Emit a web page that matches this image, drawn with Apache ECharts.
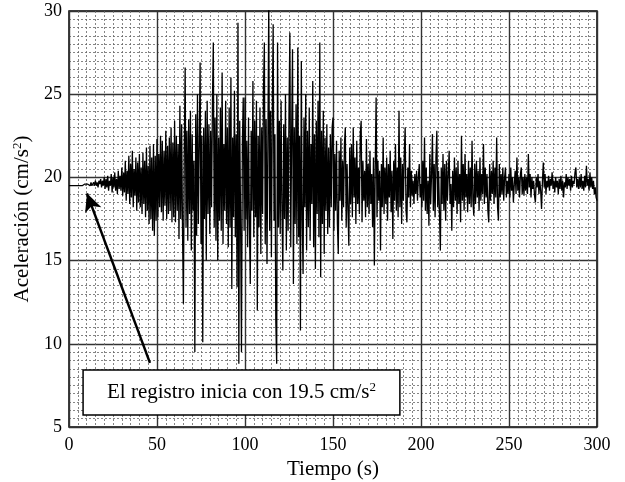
<!DOCTYPE html>
<html>
<head>
<meta charset="utf-8">
<script src="https://cdn.jsdelivr.net/npm/echarts@6/dist/echarts.min.js"></script>
<style>html,body{margin:0;padding:0;background:#fff}#c{width:625px;height:482px}</style>
</head>
<body>
<div id="c"></div>
<script>
// time step of the record (s)
var dt = 0.5;
// acceleration record (cm/s^2), one value every 0.5 s
var accel = [
 19.5,19.5,19.5,19.5,19.5,19.5,19.5,19.5,19.5,19.5,19.5,19.5,19.5,19.5,19.5,19.5,19.5,19.5,19.6,19.5,
 19.5,19.6,19.5,19.6,19.5,19.7,19.5,19.6,19.7,19.5,19.8,19.5,19.7,19.4,19.8,19.6,19.9,19.4,19.8,19.5,
 20.0,19.3,19.9,19.4,20.1,19.2,19.8,19.5,20.2,19.1,20.0,19.4,20.3,19.2,19.9,19.0,20.4,19.3,20.1,19.2,
 20.6,18.9,20.3,19.1,21.0,18.6,20.4,19.0,21.3,18.4,20.8,18.8,21.6,18.2,20.5,18.9,21.2,18.0,20.9,18.5,
 21.4,18.2,20.6,17.8,21.5,18.4,21.0,17.6,21.8,18.0,20.7,17.2,21.9,17.5,21.2,16.8,22.0,16.5,21.3,17.4,
 22.3,17.6,21.4,18.2,22.5,17.9,22.2,17.4,21.6,18.3,22.8,17.5,21.9,17.8,22.4,18.0,23.0,17.3,22.1,17.6,
 23.4,17.3,22.5,18.0,22.0,16.3,24.3,17.5,23.2,16.8,12.4,21.5,26.6,17.0,22.8,16.2,23.5,17.8,24.0,15.6,
 22.6,18.0,21.0,9.5,23.8,16.5,25.0,17.2,22.0,26.9,16.0,22.5,10.1,23.0,17.5,24.0,15.0,24.6,17.8,23.2,
 16.6,22.8,18.2,24.5,28.1,17.0,23.6,16.2,25.0,15.0,22.4,17.4,24.2,16.8,26.3,16.0,22.0,18.0,24.6,17.2,
 23.0,15.8,24.2,17.0,26.0,13.3,22.4,17.6,25.2,16.4,22.6,13.4,29.3,8.8,23.4,17.2,9.5,22.0,24.8,16.8,
 24.8,17.5,22.2,15.8,23.6,17.2,13.6,22.8,18.0,25.8,16.4,23.4,17.6,24.6,12.0,22.5,17.0,24.2,15.4,23.0,
 17.8,25.2,28.1,16.0,23.5,14.8,22.0,30.5,16.8,24.0,15.2,23.8,29.2,17.4,22.6,11.4,8.8,28.1,17.0,23.4,
 16.6,24.6,18.0,14.4,23.2,17.5,25.0,15.6,22.4,16.8,24.0,28.7,15.8,22.6,27.7,13.6,23.0,17.2,24.4,16.0,
 27.8,16.4,22.5,10.8,27.0,17.6,14.2,23.6,18.2,25.0,15.6,22.8,17.0,24.2,16.2,22.0,18.4,25.8,15.8,22.6,
 14.5,23.4,17.8,24.6,16.4,28.1,14.0,22.8,17.2,24.0,15.4,22.4,18.0,23.2,16.6,21.8,17.0,22.6,18.2,23.0,
 23.6,16.8,21.4,18.0,22.2,17.2,15.4,21.6,18.6,22.4,17.4,21.0,18.2,22.0,23.0,17.0,20.8,18.0,15.9,21.8,
 18.4,22.0,17.6,23.0,18.8,21.2,17.2,22.2,18.4,20.6,17.8,22.6,23.4,17.3,21.0,18.6,20.4,17.6,22.3,18.2,
 20.8,17.8,21.6,18.4,20.2,17.0,21.2,14.7,20.6,24.8,17.6,21.0,18.6,20.4,15.6,20.8,18.2,22.4,17.8,20.6,
 18.4,21.2,17.4,20.8,18.8,21.6,17.9,20.4,16.3,21.0,18.6,22.0,18.0,20.6,17.6,24.0,18.2,21.2,17.2,20.8,
 18.6,21.4,23.0,18.0,17.3,20.6,18.8,22.0,18.2,20.4,18.9,19.8,18.4,20.2,19.0,20.4,18.6,20.0,20.8,18.8,
 19.6,18.2,21.0,18.6,22.4,18.0,20.6,17.8,19.8,17.1,21.4,18.4,20.2,22.6,18.0,20.8,17.6,21.2,22.8,18.2,
 20.4,17.8,15.6,20.6,18.4,21.4,18.0,20.8,17.4,21.0,18.6,20.2,21.6,18.4,19.6,16.8,20.4,18.2,21.2,18.6,
 20.6,17.8,21.0,18.4,20.2,17.3,22.5,18.6,20.8,18.0,21.4,18.8,20.2,17.9,21.0,18.4,20.6,18.2,22.2,18.6,
 17.7,20.8,18.4,21.0,18.8,20.4,18.0,21.2,18.6,20.2,19.0,22.0,18.4,20.6,18.8,20.2,18.0,17.3,20.8,18.6,
 20.4,19.0,21.0,18.4,20.6,18.8,22.4,18.2,17.4,20.8,18.8,20.2,19.0,20.6,18.6,20.0,20.6,18.8,19.8,19.0,
 20.2,18.8,20.6,19.2,20.0,18.5,19.6,20.4,19.0,21.2,19.2,20.0,18.8,20.2,20.6,19.0,20.0,18.9,20.2,19.2,
 20.0,19.0,21.4,19.4,20.2,18.8,20.0,19.3,19.8,18.9,18.5,20.0,19.4,20.2,19.0,19.8,19.2,18.1,19.8,20.9,
 19.4,20.2,19.0,19.8,19.4,20.1,19.2,19.9,19.5,20.3,19.3,19.8,19.1,20.0,19.4,19.8,19.0,19.9,19.3,20.1,
 19.2,19.8,18.8,19.7,19.4,20.2,19.3,20.0,19.5,19.9,19.2,20.1,19.4,19.8,19.6,20.3,20.6,19.4,19.9,19.3,
 20.0,19.4,20.2,19.3,19.8,19.2,20.1,19.4,20.7,19.5,19.9,19.2,20.3,19.4,20.0,19.3,19.8,19.0,19.4,18.8,
 18.6
];
// axis ticks
var xTicks = [0, 50, 100, 150, 200, 250, 300];
var yTicks = [5, 10, 15, 20, 25, 30];
// annotation
var noteText = 'El registro inicia con 19.5 cm/s';
var arrowFrom = [46, 8.85];
var arrowTo = [10.2, 19.04];
var boxCorners = [[8, 8.43], [188, 5.72]];

var FONT = '"Liberation Serif", "Times New Roman", serif';
var pts = accel.map(function (v, i) { return [i * dt, v]; });

var chart = echarts.init(document.getElementById('c'), null, {renderer: 'canvas'});
var option = {
  animation: false,
  backgroundColor: '#fff',
  grid: {left: 69, right: 28, top: 11, bottom: 55, containLabel: false, outerBoundsMode: 'none',
    show: true, borderColor: '#000', borderWidth: 1.5, backgroundColor: 'transparent'},
  xAxis: {
    type: 'value', min: xTicks[0], max: xTicks[xTicks.length - 1], interval: 50,
    name: 'Tiempo (s)', nameLocation: 'middle', nameGap: 26,
    nameTextStyle: {fontFamily: FONT, fontSize: 21, color: '#000'},
    axisLine: {show: false}, axisTick: {show: false},
    axisLabel: {fontFamily: FONT, fontSize: 18, color: '#000', margin: 9},
    splitLine: {show: true, lineStyle: {color: '#333', width: 1.4}},
    minorTick: {show: false, splitNumber: 10},
    minorSplitLine: {show: true, lineStyle: {color: '#666', width: 0.8, type: [2, 2]}}
  },
  yAxis: {
    type: 'value', min: yTicks[0], max: yTicks[yTicks.length - 1], interval: 5,
    name: 'Aceleración (cm/s{sup|2})', nameLocation: 'middle', nameGap: 33,
    nameTextStyle: {fontFamily: FONT, fontSize: 21, color: '#000',
      rich: {sup: {fontFamily: FONT, fontSize: 13, color: '#000', verticalAlign: 'top', padding: [0, 0, 10, 0]}}},
    axisLine: {show: false}, axisTick: {show: false},
    axisLabel: {fontFamily: FONT, fontSize: 18, color: '#000', margin: 7},
    splitLine: {show: true, lineStyle: {color: '#333', width: 1.4}},
    minorTick: {show: false, splitNumber: 10},
    minorSplitLine: {show: true, lineStyle: {color: '#666', width: 0.8, type: [2, 2]}}
  },
  series: [{
    type: 'line', data: pts, showSymbol: false, symbol: 'none',
    lineStyle: {color: '#000', width: 1.3}, clip: true,
    markLine: {
      silent: true, symbol: ['none', 'arrow'], symbolSize: [13, 18],
      label: {show: false},
      lineStyle: {color: '#000', width: 2.5, type: 'solid'},
      data: [[{coord: arrowFrom}, {coord: arrowTo}]]
    }
  }]
};
chart.setOption(option);

var p1 = chart.convertToPixel({gridIndex: 0}, boxCorners[0]);
var p2 = chart.convertToPixel({gridIndex: 0}, boxCorners[1]);
chart.setOption({
  graphic: [{
    type: 'rect', z: 100,
    shape: {x: p1[0], y: p1[1], width: p2[0] - p1[0], height: p2[1] - p1[1]},
    style: {fill: '#fff', stroke: '#000', lineWidth: 1.5}
  }, {
    type: 'text', z: 101,
    x: (p1[0] + p2[0]) / 2, y: (p1[1] + p2[1]) / 2,
    style: {
      text: noteText + '{sup|2}', align: 'center', verticalAlign: 'middle',
      fontFamily: FONT, fontSize: 21, fill: '#000',
      rich: {sup: {fontFamily: FONT, fontSize: 13, fill: '#000', verticalAlign: 'top', padding: [0, 0, 10, 0]}}
    }
  }]
});
</script>
</body>
</html>
